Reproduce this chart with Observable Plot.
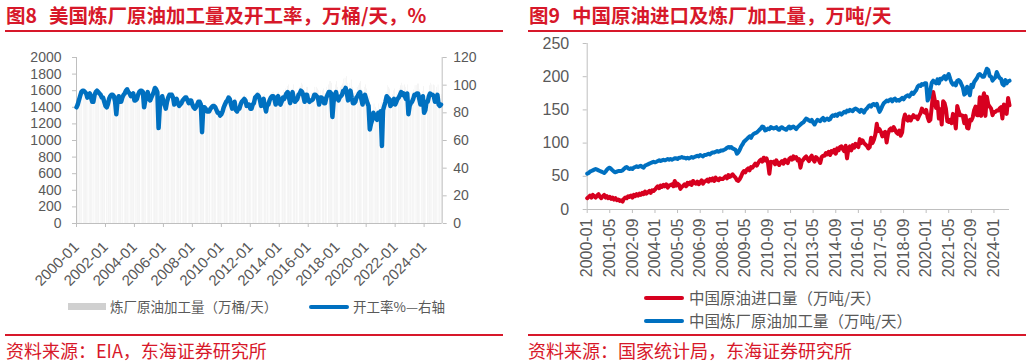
<!DOCTYPE html>
<html><head><meta charset="utf-8">
<script src="https://cdn.jsdelivr.net/npm/d3@7"></script>
<script src="https://cdn.jsdelivr.net/npm/@observablehq/plot@0.6"></script>
<style>
html,body{margin:0;padding:0;background:#fff;}
body{width:1032px;height:363px;position:relative;overflow:hidden;font-family:"Noto Sans CJK SC",sans-serif;}
.abs{position:absolute;}
.title{color:#d7182a;font-weight:bold;font-size:19.5px;line-height:20px;white-space:nowrap;}
.rule{height:2px;background:#d7182a;}
.src{color:#d7182a;font-size:18px;line-height:18px;white-space:nowrap;}
.leg{color:#595959;white-space:nowrap;}
svg{position:absolute;top:0;}
</style></head><body>
<div class="abs title" style="left:6px;top:5px">图8<span style="margin-left:12px">美国炼厂原油加工量及开工率，万桶/天，%</span></div>
<div class="abs rule" style="left:5px;top:30px;width:498px"></div>
<div class="abs title" style="left:529px;top:5px">图9<span style="margin-left:12px">中国原油进口及炼厂加工量，万吨/天</span></div>
<div class="abs rule" style="left:528px;top:30px;width:498px"></div>

<div id="left" class="abs" style="left:0;top:0;width:516px;height:290px"></div>
<div id="right" class="abs" style="left:516px;top:0;width:516px;height:285px"></div>

<div class="abs" style="left:68px;top:303px;width:38px;height:7px;background:#d0d0d0"></div>
<div class="abs leg" style="left:110px;top:298px;font-size:13.5px;line-height:17px">炼厂原油加工量（万桶/天）</div>
<div class="abs" style="left:309px;top:305px;width:40px;height:4px;background:#0070c0;border-radius:2px"></div>
<div class="abs leg" style="left:353px;top:298px;font-size:13.5px;line-height:17px">开工率%—右轴</div>

<div class="abs" style="left:644px;top:296px;width:40px;height:4px;background:#d7001f;border-radius:2px"></div>
<div class="abs leg" style="left:689px;top:288px;font-size:15.5px;line-height:19px">中国原油进口量（万吨/天）</div>
<div class="abs" style="left:644px;top:319px;width:40px;height:4px;background:#0070c0;border-radius:2px"></div>
<div class="abs leg" style="left:689px;top:311px;font-size:15.5px;line-height:19px">中国炼厂原油加工量（万吨/天）</div>

<div class="abs rule" style="left:5px;top:334px;width:498px"></div>
<div class="abs src" style="left:6px;top:341px">资料来源：EIA，东海证券研究所</div>
<div class="abs rule" style="left:528px;top:334px;width:498px"></div>
<div class="abs src" style="left:528px;top:341px">资料来源：国家统计局，东海证券研究所</div>

<script>
// US refinery utilization (%), monthly 2000-01 .. 2025-03
const usUtil = [
84,86,89,92,95,96,96,95,94,91,93,94,
91,88,88,93,95,96,95,94,93,91,91,88,
85,84,86,90,92,93,93,92,88,79,89,92,
88,88,91,93,94,96,97,95,94,92,93,94,
89,89,90,93,95,96,96,95,84,89,93,95,
90,89,91,93,95,98,97,95,69,84,89,92,
88,86,83,88,91,93,93,93,91,86,89,90,
87,85,86,87,89,90,91,91,89,87,89,89,
86,84,83,84,86,88,88,86,66,84,84,83,
81,81,81,83,84,85,85,84,82,80,80,78,
79,81,84,86,88,89,91,90,86,83,85,88,
82,81,83,83,86,88,89,90,89,85,86,86,
83,83,86,87,91,92,93,92,89,85,89,90,
85,81,86,86,89,91,92,92,90,86,91,92,
87,86,88,91,90,92,94,95,91,87,92,95,
90,88,89,90,93,94,96,95,92,88,93,93,
89,88,89,89,90,93,93,92,91,86,91,91,
90,87,87,91,93,95,95,94,77,88,93,95,
91,89,91,92,93,96,96,98,94,89,94,96,
91,87,87,88,91,92,94,95,90,86,91,93,
90,87,85,68,72,75,80,78,76,75,80,79,
81,56,82,85,88,92,91,90,85,86,89,90,
86,88,90,91,93,95,93,94,92,90,94,79,
85,87,88,90,93,93,94,94,90,86,89,92,
80,82,88,88,92,94,93,93,92,88,91,93,
86,85,86];
// US refinery crude runs (万桶/天), monthly 2000-01 .. 2025-03
const usRuns = [
1390,1420,1470,1520,1570,1590,1590,1570,1550,1500,1540,1550,
1500,1450,1450,1530,1570,1580,1570,1550,1530,1500,1500,1450,
1400,1390,1420,1490,1520,1530,1530,1520,1450,1300,1470,1520,
1450,1450,1500,1530,1550,1580,1600,1570,1550,1520,1530,1550,
1470,1470,1490,1530,1570,1580,1580,1570,1390,1470,1530,1570,
1530,1510,1550,1580,1620,1660,1650,1620,1170,1430,1510,1560,
1500,1460,1410,1500,1550,1580,1580,1580,1550,1460,1510,1530,
1480,1450,1460,1480,1510,1530,1550,1550,1510,1480,1510,1510,
1460,1430,1410,1430,1460,1500,1500,1460,1120,1430,1430,1410,
1390,1390,1390,1430,1440,1460,1460,1440,1410,1380,1380,1340,
1360,1390,1440,1480,1510,1530,1570,1550,1480,1430,1460,1510,
1410,1390,1430,1430,1480,1510,1530,1550,1530,1460,1480,1480,
1430,1430,1480,1500,1570,1580,1600,1580,1530,1460,1530,1550,
1460,1390,1480,1480,1530,1570,1580,1580,1550,1480,1570,1580,
1530,1510,1550,1600,1580,1620,1650,1670,1600,1530,1620,1670,
1580,1550,1570,1580,1640,1650,1690,1670,1620,1550,1640,1640,
1570,1550,1570,1570,1580,1640,1640,1620,1600,1510,1600,1600,
1620,1570,1570,1640,1670,1710,1710,1690,1390,1580,1670,1710,
1640,1600,1640,1660,1680,1740,1750,1770,1690,1600,1690,1730,
1640,1570,1570,1580,1640,1660,1690,1710,1620,1550,1640,1670,
1620,1570,1530,1220,1300,1350,1440,1400,1370,1350,1440,1420,
1460,1010,1480,1530,1580,1660,1640,1620,1530,1550,1600,1620,
1530,1570,1600,1620,1660,1690,1660,1670,1640,1600,1670,1410,
1520,1560,1580,1610,1660,1660,1680,1680,1610,1540,1590,1650,
1440,1480,1580,1580,1660,1690,1670,1670,1660,1580,1640,1670,
1550,1530,1550];
// China crude imports (万吨/天), monthly 2000-01 .. 2024-12
const cnImports = [
17,19,21,18,22,20,18,21,23,19,17,20,
22,18,20,17,19,16,18,15,17,14,15,13,
14,12,16,18,17,20,19,21,18,22,20,23,
21,24,22,25,23,27,24,26,28,25,29,28,
30,33,35,32,36,34,37,35,38,33,36,37,
38,35,43,36,39,37,31,34,36,38,35,40,
38,41,37,43,40,39,42,38,41,44,39,42,
43,45,42,46,44,47,43,48,45,44,47,46,
46,48,50,47,52,49,51,53,50,48,44,43,
46,50,55,58,56,60,62,59,64,63,66,69,
66,70,73,75,72,78,74,77,70,54,72,71,
72,68,74,70,67,71,73,69,75,72,70,76,
78,75,80,77,79,74,76,63,73,75,78,80,
76,73,78,81,75,72,79,77,74,70,79,81,
81,85,83,87,82,88,86,90,84,92,89,94,
95,91,88,96,77,92,95,89,97,93,99,96,
94,106,100,104,100,98,96,92,94,108,100,105,
113,129,118,121,117,110,115,117,101,114,120,122,
119,124,120,116,114,119,111,116,135,143,136,134,
140,134,138,142,139,140,136,141,145,152,148,146,
150,139,133,135,155,177,166,153,162,137,151,128,
163,160,152,133,132,135,130,144,137,122,156,148,
142,142,141,130,141,123,122,135,134,139,150,155,
142,142,169,141,166,175,141,170,158,155,152,142,
147,147,149,149,152,154,137,158,156,144,168,157];
// China refinery crude throughput (万吨/天), monthly 2000-01 .. 2024-12
const cnRuns = [
54,55,57,58,59,60,61,60,59,58,57,56,
55,57,60,62,63,61,59,57,56,57,58,58,
58,59,61,63,64,62,61,62,61,63,64,65,
64,65,66,64,63,66,67,68,69,70,71,72,
71,72,73,74,73,74,75,74,75,76,75,76,
75,76,77,77,76,78,78,79,78,78,77,78,
77,78,79,78,79,80,81,80,82,81,80,82,
82,83,84,83,85,86,86,87,88,87,88,89,
89,90,91,93,94,93,94,92,91,90,84,86,
90,95,98,102,104,106,108,110,108,112,114,115,
116,118,120,122,125,124,119,120,122,121,124,123,
122,123,124,121,120,123,124,122,121,120,123,125,
122,124,125,123,121,124,126,128,130,131,134,137,
136,134,133,135,131,128,132,135,134,133,136,138,
134,136,137,135,136,140,142,141,143,141,144,145,
143,145,147,146,149,148,150,149,148,151,152,151,
149,147,150,149,146,150,152,155,157,155,158,159,
157,159,153,147,151,156,160,162,164,163,165,166,
163,166,167,164,165,164,166,168,166,169,171,172,
170,173,176,174,177,180,185,187,186,189,188,190,
190,164,168,180,191,194,192,190,196,190,197,196,
199,201,196,200,204,197,191,188,190,187,194,195,
193,188,184,173,175,185,178,172,188,184,192,195,
198,203,204,202,200,200,206,212,210,201,200,194,
197,199,207,202,198,197,189,187,195,190,193,194];

const usTickLabels = ["2000-01","2002-01","2004-01","2006-01","2008-01","2010-01","2012-01","2014-01","2016-01","2018-01","2020-01","2022-01","2024-01"];
const cnTickLabels = ["2000-01","2001-05","2002-09","2004-01","2005-05","2006-09","2008-01","2009-05","2010-09","2012-01","2013-05","2014-09","2016-01","2017-05","2018-09","2020-01","2021-05","2022-09","2024-01"];
const usLeftTicks = [0,200,400,600,800,1000,1200,1400,1600,1800,2000];
const usRightTicks = [0,20,40,60,80,100,120];
const cnYTicks = [0,50,100,150,200,250];

const parse = d3.utcParse("%Y-%m");
const fmt = d3.utcFormat("%Y-%m");
const plain = d => String(d);
const usDates = d3.utcMonth.range(parse("2000-01"), parse("2025-04"));
const cnDates = d3.utcMonth.range(parse("2000-01"), parse("2025-01"));
const us = usDates.map((date, i) => ({date, util: usUtil[i], runs: usRuns[i]}));
const cn = cnDates.map((date, i) => ({date, imp: cnImports[i], run: cnRuns[i]}));

const font = "'Liberation Sans', Arial, sans-serif";
const grey = "#bfbfbf", txt = "#595959";
const usDomain = [parse("2000-01"), parse("2025-04")];
const usFrame = {width: 516, height: 290, marginLeft: 76, marginRight: 74.3, marginTop: 57, marginBottom: 67,
  style: {fontFamily: font, background: "transparent", overflow: "visible"}};

const chartA = Plot.plot({
  ...usFrame,
  x: {type: "utc", domain: usDomain, axis: null},
  y: {domain: [0, 2000], axis: null},
  marks: [
    Plot.rectY(us, {x: "date", y: "runs", interval: "month", fill: "#d0d0d0"}),
    Plot.ruleX([usDomain[0]], {stroke: grey}),
    Plot.ruleY([0], {stroke: grey}),
    Plot.axisY(usLeftTicks, {anchor: "left", tickSize: 4, tickPadding: 11, fontSize: 14, color: txt, stroke: grey, tickFormat: plain, label: null}),
    Plot.axisX(usTickLabels.map(parse), {anchor: "bottom", tickSize: 4, tickPadding: 17, tickRotate: -45, textAnchor: "end",
      fontSize: 15, color: txt, stroke: grey, tickFormat: fmt, label: null})
  ]
});
const chartB = Plot.plot({
  ...usFrame,
  x: {type: "utc", domain: usDomain, axis: null},
  y: {domain: [0, 120], axis: null},
  marks: [
    Plot.ruleX([usDomain[1]], {stroke: grey}),
    Plot.line(us, {x: "date", y: "util", stroke: "#0070c0", strokeWidth: 4.5, strokeLinejoin: "round", strokeLinecap: "round"}),
    Plot.axisY(usRightTicks, {anchor: "right", tickSize: 4, tickPadding: 7, fontSize: 14, color: txt, stroke: grey, tickFormat: plain, label: null})
  ]
});
const cnDomain = [parse("2000-01"), parse("2024-12")];
const chartC = Plot.plot({
  width: 516, height: 285, marginLeft: 70.7, marginRight: 23, marginTop: 43, marginBottom: 76,
  style: {fontFamily: font, background: "transparent", overflow: "visible"},
  x: {type: "utc", domain: cnDomain, axis: null},
  y: {domain: [0, 250], axis: null},
  marks: [
    Plot.ruleX([cnDomain[0]], {stroke: grey}),
    Plot.ruleY([0], {stroke: grey}),
    Plot.line(cn, {x: "date", y: "imp", stroke: "#d7001f", strokeWidth: 4, strokeLinejoin: "round", strokeLinecap: "round"}),
    Plot.line(cn, {x: "date", y: "run", stroke: "#0070c0", strokeWidth: 4, strokeLinejoin: "round", strokeLinecap: "round"}),
    Plot.axisY(cnYTicks, {anchor: "left", tickSize: 4, tickPadding: 14, fontSize: 16, color: txt, stroke: grey, tickFormat: plain, label: null}),
    Plot.axisX(cnTickLabels.map(parse), {anchor: "bottom", tickSize: 4, tickPadding: 5, tickRotate: -90, textAnchor: "end",
      fontSize: 16, color: txt, stroke: grey, tickFormat: fmt, label: null})
  ]
});
document.getElementById("left").append(chartA, chartB);
document.getElementById("right").append(chartC);
</script>
</body></html>
